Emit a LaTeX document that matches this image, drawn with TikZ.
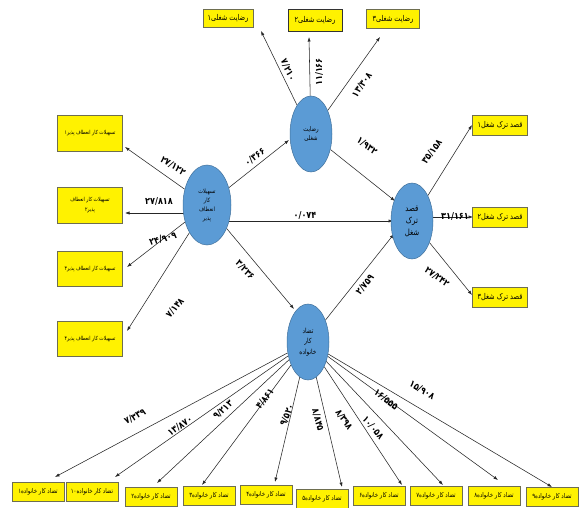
\documentclass[tikz,border=0pt]{standalone}
\usepackage{fontspec}
\usetikzlibrary{shapes.geometric,arrows.meta}
\TeXXeTstate=1
\newfontfamily\arabicfont[Script=Arabic,FakeStretch=0.82]{DejaVu Sans}
\newfontfamily\numfont[Script=Arabic,FakeStretch=0.85]{DejaVu Sans}
\newcommand{\fa}[1]{{\arabicfont\beginR #1\endR}}
\definecolor{latblue}{HTML}{5B9BD5}
\definecolor{latedge}{HTML}{41719C}
\definecolor{boxedge}{HTML}{6E6E50}
\pgfdeclarelayer{bg}
\pgfdeclarelayer{canvas}
\pgfsetlayers{canvas,bg,main}
\tikzset{
  ybox/.style={draw=boxedge, line width=0.7pt, fill=yellow, inner sep=1pt,
    minimum width=52pt, minimum height=19pt, align=center,
    font=\fontsize{6.6}{7.5}\selectfont},
  topbox/.style={ybox, font=\fontsize{8}{9}\selectfont},
  leftbox/.style={ybox, minimum width=65pt, minimum height=36pt, font=\fontsize{5.6}{10}\selectfont},
  rightbox/.style={ybox, minimum width=55pt, minimum height=20pt, font=\fontsize{8}{9}\selectfont},
  latent/.style={ellipse, draw=latedge, line width=0.5pt, fill=latblue, inner sep=0pt,
    minimum width=42pt, minimum height=76pt, align=center},
  conn/.style={draw=black!85, line width=0.55pt, -{Latex[length=4.5pt,width=3.2pt]}},
  lbl/.style={inner sep=0pt, font=\numfont\bfseries\fontsize{9.5}{10}\selectfont}
}
\begin{document}
\begin{tikzpicture}[x=1pt,y=-1pt]
\useasboundingbox (0,0) rectangle (581,508);
\begin{pgfonlayer}{canvas}
\fill[white] (0,0) rectangle (581,508);
\end{pgfonlayer}

% latent variables
\node[latent, font=\fontsize{6.5}{9}\selectfont] (rs) at (311,134) {\fa{رضایت}\\\fa{شغلی}};
\node[latent, font=\fontsize{8.5}{12}\selectfont] (qs) at (412,221) {\fa{قصد}\\\fa{ترک}\\\fa{شغل}};
\node[latent, minimum width=48pt, minimum height=80pt, font=\fontsize{6}{9}\selectfont] (tsh) at (207,205)
  {\fa{تسهیلات}\\\fa{کار}\\\fa{انعطاف}\\\fa{پذیر}};
\node[latent, font=\fontsize{7}{10.5}\selectfont] (tk) at (308,342) {\fa{تضاد}\\\fa{کار}\\\fa{خانواده}};

% indicator boxes
\node[topbox, minimum width=50pt, minimum height=18pt] (T1) at (228,18) {\fa{رضایت شغلی۱}};
\node[topbox, minimum width=54pt, minimum height=22pt, draw=black!80, line width=0.9pt] (T2) at (315,20) {\fa{رضایت شغلی۲}};
\node[topbox, minimum width=53pt] (T3) at (393,19) {\fa{رضایت شغلی۳}};

\node[leftbox] (L1) at (90,133) {\fa{تسهیلات کار انعطاف پذیر۱}};
\node[leftbox] (L2) at (90,205) {\fa{تسهیلات کار انعطاف}\\\fa{پذیر۲}};
\node[leftbox, minimum height=35pt] (L3) at (90,269) {\fa{تسهیلات کار انعطاف پذیر۳}};
\node[leftbox, minimum height=35pt] (L4) at (90,339) {\fa{تسهیلات کار انعطاف پذیر۴}};

\node[rightbox] (R1) at (500,125) {\fa{قصد ترک شغل۱}};
\node[rightbox] (R2) at (500,217) {\fa{قصد ترک شغل۲}};
\node[rightbox] (R3) at (500,297) {\fa{قصد ترک شغل۳}};

\node[ybox] (B1) at (38,492) {\fa{تضاد کار خانواده۱}};
\node[ybox] (B2) at (92,492) {\fa{تضاد کار خانواده۱۰}};
\node[ybox] (B3) at (151,497) {\fa{تضاد کار خانواده۲}};
\node[ybox] (B4) at (209,496) {\fa{تضاد کار خانواده۳}};
\node[ybox] (B5) at (266,495) {\fa{تضاد کار خانواده۴}};
\node[ybox] (B6) at (322,499) {\fa{تضاد کار خانواده۵}};
\node[ybox] (B7) at (379,496) {\fa{تضاد کار خانواده۶}};
\node[ybox] (B8) at (436,496) {\fa{تضاد کار خانواده۷}};
\node[ybox] (B9) at (494,496) {\fa{تضاد کار خانواده۸}};
\node[ybox] (B10) at (552,497) {\fa{تضاد کار خانواده۹}};

% arrow tips
\coordinate (t1) at (261,31);
\coordinate (t2) at (309,37);
\coordinate (t3) at (380,37);
\coordinate (l1) at (125,147);
\coordinate (l2) at (125,213);
\coordinate (l3) at (127,267);
\coordinate (l4) at (127,331);
\coordinate (r1) at (472,125);
\coordinate (r2) at (473,217);
\coordinate (r3) at (472,295);
\coordinate (irs) at (289,140);
\coordinate (iqs1) at (395,201);
\coordinate (iqs2) at (393,221);
\coordinate (iqs3) at (394,234);
\coordinate (itk) at (294,309);
\coordinate (b1) at (55,477);
\coordinate (b2) at (115,477);
\coordinate (b3) at (157,483);
\coordinate (b4) at (202,485);
\coordinate (b5) at (275,482);
\coordinate (b6) at (342,487);
\coordinate (b7) at (402,485);
\coordinate (b8) at (443,485);
\coordinate (b9) at (498,480);
\coordinate (b10) at (552,487);

\begin{pgfonlayer}{bg}
\draw[conn] (rs) -- (t1);
\draw[conn] (rs) -- (t2);
\draw[conn] (rs) -- (t3);
\draw[conn] (tsh) -- (l1);
\draw[conn] (tsh.center |- l2) -- (l2);
\draw[conn] (tsh) -- (l3);
\draw[conn] (tsh) -- (l4);
\draw[conn] (qs) -- (r1);
\draw[conn] (qs.center |- r2) -- (r2);
\draw[conn] (qs) -- (r3);
\draw[conn] (tsh) -- (irs);
\draw[conn] (rs) -- (iqs1);
\draw[conn] (tsh.center |- iqs2) -- (iqs2);
\draw[conn] (tk) -- (iqs3);
\draw[conn] (tsh) -- (itk);
\foreach \i in {1,...,10} { \draw[conn] (tk) -- (b\i); }
\end{pgfonlayer}

% path coefficients
\node[lbl, rotate=-66] (n1) at (288,70) {۷/۲۱۰};
\node[lbl, rotate=90] (n2) at (319,72) {۱۱/۱۶۶};
\node[lbl, rotate=55] (n3) at (362,85) {۱۳/۳۰۸};
\node[lbl, rotate=36] (n4) at (255,157) {۰/۳۶۶};
\node[lbl, rotate=-36] (n5) at (367,146) {۱/۹۳۲};
\node[lbl] (n6) at (305,215) {۰/۰۷۴};
\node[lbl, rotate=-47] (n7) at (245,270) {۳/۲۳۶};
\node[lbl, rotate=51] (n8) at (365,285) {۲/۷۵۹};
\node[lbl, rotate=54] (n9) at (432,152) {۳۵/۱۵۸};
\node[lbl] (n10) at (455,216) {۳۱/۱۶۱};
\node[lbl, rotate=-37] (n11) at (437,277) {۲۷/۲۴۲};
\node[lbl, rotate=-33] (n12) at (173,166) {۲۷/۱۲۲};
\node[lbl] (n13) at (159,201) {۲۷/۸۱۸};
\node[lbl, rotate=15] (n14) at (163,239) {۲۴/۹۰۹};
\node[lbl, rotate=50] (n15) at (175,308) {۷/۱۴۸};
\node[lbl, rotate=28] (n16) at (135,417) {۷/۳۳۹};
\node[lbl, rotate=34] (n17) at (180,426) {۱۳/۸۷۰};
\node[lbl, rotate=42] (n18) at (223,410) {۹/۲۱۳};
\node[lbl, rotate=52] (n19) at (265,399) {۴/۸۶۱};
\node[lbl, rotate=67] (n20) at (287,415) {۹/۵۲۰};
\node[lbl, rotate=-75] (n21) at (318,420) {۸/۸۴۵};
\node[lbl, rotate=-55] (n22) at (344,420) {۸/۳۹۸};
\node[lbl, rotate=-50] (n23) at (373,428) {۱۰/۰۵۸};
\node[lbl, rotate=-38] (n24) at (386,400) {۱۶/۵۵۵};
\node[lbl, rotate=-31] (n25) at (422,390) {۱۵/۹۰۸};
\end{tikzpicture}
\end{document}
